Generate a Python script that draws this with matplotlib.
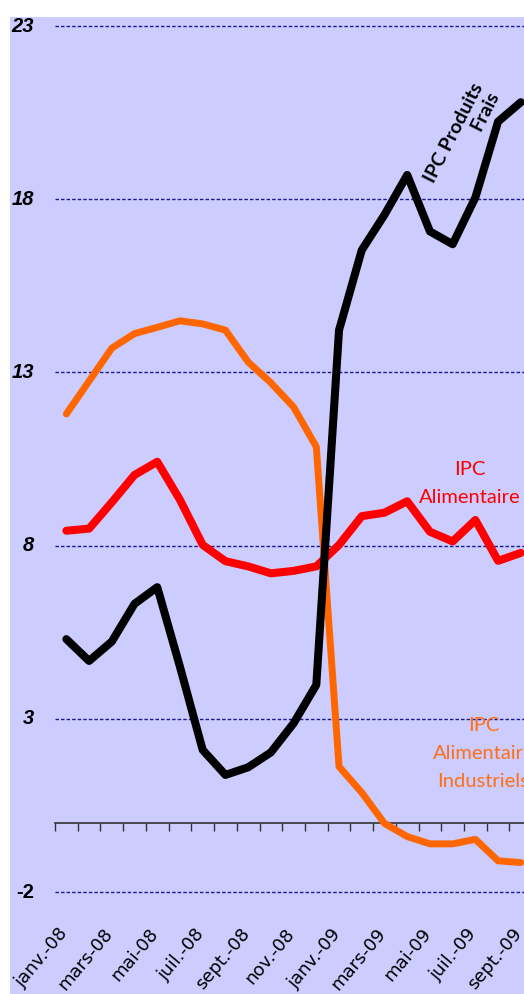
import numpy as np
import matplotlib.pyplot as plt
from matplotlib.patches import Rectangle

plt.rcParams['savefig.bbox'] = 'standard'

# monthly series, janv.-08 to sept.-09
months = ['janv.-08', 'févr.-08', 'mars-08', 'avr.-08', 'mai-08', 'juin-08',
          'juil.-08', 'août-08', 'sept.-08', 'oct.-08', 'nov.-08', 'déc.-08',
          'janv.-09', 'févr.-09', 'mars-09', 'avr.-09', 'mai-09', 'juin-09',
          'juil.-09', 'août-09', 'sept.-09']
frais = [5.3, 4.67, 5.23, 6.32, 6.8, 4.5, 2.1, 1.38, 1.6, 2.03, 2.87, 3.98,
         14.22, 16.53, 17.55, 18.7, 17.07, 16.7, 18.05, 20.24, 20.8]
alimentaire = [8.43, 8.49, 9.25, 10.04, 10.42, 9.32, 8.02, 7.55, 7.4, 7.2, 7.27, 7.4,
               8.02, 8.85, 8.95, 9.28, 8.4, 8.12, 8.74, 7.56, 7.79]
industriels = [11.8, 12.75, 13.7, 14.12, 14.3, 14.49, 14.4, 14.22, 13.3, 12.7, 12.0, 10.85,
               1.62, 0.87, -0.02, -0.4, -0.61, -0.61, -0.48, -1.1, -1.15]
yticks = [-2, 3, 8, 13, 18, 23]

W, H = 524, 994
fig = plt.figure(figsize=(W / 100, H / 100), dpi=100, facecolor='white')
bg = Rectangle((10 / W, 0), (W - 10) / W, (H - 17) / H, transform=fig.transFigure,
               facecolor='#ccccff', edgecolor='none', zorder=-10)
fig.patches.append(bg)

ax = fig.add_axes([55 / W, (H - 892) / H, (W - 55) / W, (892 - 26) / H])
ax.set_facecolor('none')
x = np.arange(len(months))

# dashed grid
for v in yticks:
    ax.axhline(v, color='#1a1a8c', lw=1.0, linestyle=(0, (2.5, 1.5)), clip_on=False, zorder=1)

for s in ['top', 'right', 'left']:
    ax.spines[s].set_visible(False)
ax.spines['bottom'].set_position(('data', 0))
ax.spines['bottom'].set_color('#333333')
ax.spines['bottom'].set_linewidth(1.2)
ax.set_xticks(np.arange(-0.5, 21, 1))
ax.tick_params(axis='x', direction='out', length=6, width=1, color='#333333', labelbottom=False)
ax.set_yticks([])

# y labels
for v in yticks:
    style = 'normal' if v < 0 else 'italic'
    ax.text(-0.5 - 21 / 22.7, v, str(v), ha='right', va='center', fontsize=14.5,
            fontweight='bold', fontstyle=style, family='Liberation Sans', clip_on=False)

# month labels every two months
for i in range(0, len(months), 2):
    ax.text(i + 0.22, -2.95, months[i], rotation=50, ha='right', va='top',
            fontsize=13, family='DejaVu Sans', clip_on=False)

ax.plot(x, alimentaire, color='#ff0000', lw=5.8, solid_capstyle='round', zorder=3)
ax.plot(x, industriels, color='#ff6600', lw=5.0, solid_capstyle='round', zorder=3)
ax.plot(x, frais, color='black', lw=5.8, solid_capstyle='round', zorder=4)

ax.text(17.4, 19.8, 'IPC Produits\nFrais', rotation=63, ha='center', va='center',
        multialignment='right', fontsize=14, fontweight='bold', family='Lato',
        color='black', linespacing=1.1)
ax.text(17.74, 9.79, 'IPC\nAlimentaire', ha='center', va='center', fontsize=14.5,
        family='Lato', color='#ff0000', linespacing=1.8)
ax.text(18.35, 2.0, 'IPC\nAlimentaire\nIndustriels', ha='center', va='center', fontsize=14.5,
        family='Lato', color='#ff7015', linespacing=1.8, clip_on=False)

# limits last, set_xticks would widen them
ax.set_xlim(-0.5, 20.14)
ax.set_ylim(-2, 23)

fig.savefig('out.png', dpi=100)
